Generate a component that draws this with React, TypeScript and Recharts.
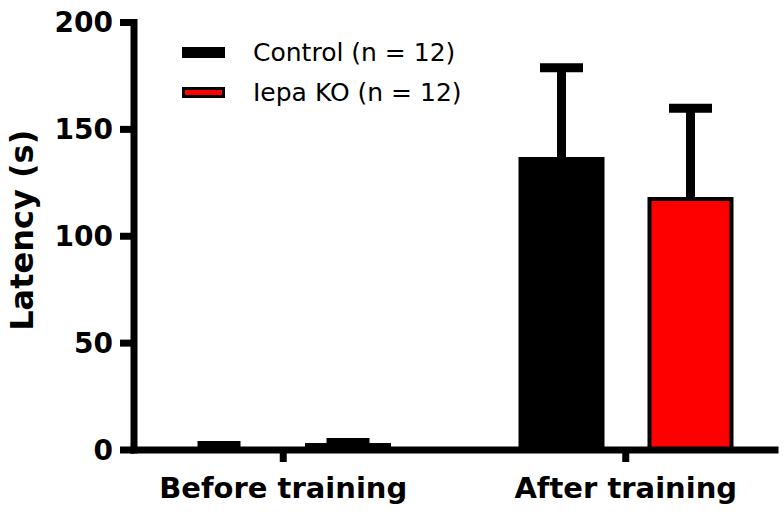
import { BarChart, Bar, XAxis, YAxis, Legend } from "recharts";

const groups = ["Before training", "After training"];
const controlMean = [0.3, 136.1];
const controlSem = [1.8, 42.7];
const koMean = [2.3, 117.4];
const koSem = [1.2, 42.5];
const yTicks = [0, 50, 100, 150, 200];
const seriesNames = ["Control (n = 12)", "Iepa KO (n = 12)"];

const data = groups.map((g, i) => ({
  group: g,
  control: controlMean[i],
  controlErr: controlSem[i],
  ko: koMean[i],
  koErr: koSem[i],
}));

const FONT = "'DejaVu Sans', sans-serif";
const swatchFill = ["#000000", "#ff0000"];

// upper-only SEM whisker, drawn on the stacked sem segment
const Whisker = (props: any) => {
  const { x, y, width, height } = props;
  const cx = x + width / 2;
  return (
    <g>
      <line x1={cx} x2={cx} y1={y} y2={y + height} stroke="#000" strokeWidth={9} />
      <line x1={cx - 21.5} x2={cx + 21.5} y1={y} y2={y} stroke="#000" strokeWidth={9} />
    </g>
  );
};

const LegendBox = () => (
  <div style={{ fontFamily: FONT, fontSize: 25, color: "#000" }}>
    {seriesNames.map((name, i) => (
      <div key={name} style={{ display: "flex", alignItems: "center", height: 40 }}>
        <div
          style={{
            width: 43,
            height: 11,
            boxSizing: "border-box",
            background: swatchFill[i],
            border: "3px solid #000",
          }}
        />
        <span style={{ marginLeft: 28, lineHeight: 1, whiteSpace: "nowrap" }}>{name}</span>
      </div>
    ))}
  </div>
);

const YTitle = (props: any) => {
  const { viewBox } = props;
  const cy = viewBox.y + viewBox.height / 2 - 6;
  return (
    <text
      x={33}
      y={cy}
      transform={`rotate(-90 33 ${cy})`}
      textAnchor="middle"
      fontFamily={FONT}
      fontWeight="bold"
      fontSize={32}
      fill="#000"
    >
      Latency (s)
    </text>
  );
};

export default function App() {
  return (
    <div style={{ position: "absolute", left: 0, top: 0, width: 784, height: 512, background: "#fff" }}>
      <BarChart
        width={784}
        height={512}
        data={data}
        margin={{ top: 22.5, right: 9, bottom: 0, left: 0 }}
        barSize={82}
        barGap={47}
      >
        <Bar dataKey="control" stackId="c" fill="#000" stroke="#000" strokeWidth={4} isAnimationActive={false} />
        <Bar dataKey="controlErr" stackId="c" shape={<Whisker />} isAnimationActive={false} />
        <Bar dataKey="ko" stackId="k" fill="#ff0000" stroke="#000" strokeWidth={4} isAnimationActive={false} />
        <Bar dataKey="koErr" stackId="k" shape={<Whisker />} isAnimationActive={false} />
        <XAxis
          dataKey="group"
          height={62}
          interval={0}
          padding={{ left: -22, right: -22 }}
          axisLine={{ stroke: "#000", strokeWidth: 7, strokeLinecap: "square" }}
          tickLine={{ stroke: "#000", strokeWidth: 7 }}
          tickSize={12}
          tickMargin={15}
          tick={{ fill: "#000", fontSize: 29, fontWeight: "bold", fontFamily: FONT }}
        />
        <YAxis
          domain={[0, 200]}
          ticks={yTicks}
          width={134}
          axisLine={{ stroke: "#000", strokeWidth: 7, strokeLinecap: "square" }}
          tickLine={{ stroke: "#000", strokeWidth: 7 }}
          tickSize={14}
          tickMargin={7}
          tick={{ fill: "#000", fontSize: 28, fontWeight: "bold", fontFamily: FONT }}
          label={{ value: "Latency (s)", content: <YTitle /> }}
        />
        <Legend
          layout="vertical"
          align="center"
          verticalAlign="middle"
          content={<LegendBox />}
          wrapperStyle={{ left: 182, top: 32.5, width: "auto", height: "auto" }}
        />
      </BarChart>
    </div>
  );
}
